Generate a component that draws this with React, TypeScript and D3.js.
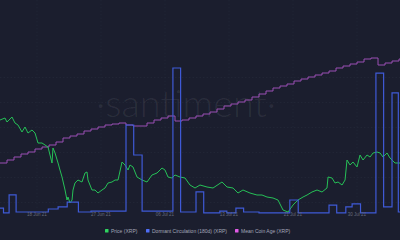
import React from 'react';
import * as d3 from 'd3';

// ---- data (days since start of chart window) ----
const priceDays = [0,0.71,1,1.71,2.14,2.57,3.14,3.57,4,4.57,5,5.43,6,6.43,6.86,7.43,7.57,7.86,8.29,8.57,8.86,9.29,9.57,9.71,10,10.29,10.43,10.71,11.14,11.71,12.14,12.43,12.57,13.14,13.57,14,14.57,15,15.43,16,16.43,16.86,17.43,17.86,18.29,18.57,19,19.57,20.29,21,21.71,22.43,23.14,23.57,24,24.57,25,25.71,26.43,27.14,27.86,28.57,29.57,30.43,31.71,32.43,33.29,34,34.71,35.71,36.71,37.43,38.14,39,39.71,40.43,41.14,41.86,42.57,43.29,43.86,44.57,45.29,46,46.71,46.86,47.43,47.86,48.29,48.86,49.29,49.57,50,50.43,51,51.43,51.86,52.43,52.86,53.29,53.86,54.29,54.71,55.29,55.71,56.43,57.14];
const priceValues = [0.88,0.888,0.872,0.892,0.868,0.86,0.832,0.852,0.828,0.84,0.828,0.788,0.788,0.78,0.772,0.708,0.768,0.748,0.708,0.68,0.652,0.6,0.56,0.572,0.548,0.56,0.6,0.628,0.64,0.632,0.668,0.672,0.64,0.6,0.6,0.588,0.6,0.608,0.628,0.632,0.64,0.64,0.712,0.7,0.68,0.7,0.692,0.652,0.64,0.632,0.66,0.668,0.688,0.68,0.652,0.648,0.66,0.652,0.648,0.62,0.608,0.62,0.612,0.608,0.632,0.612,0.608,0.588,0.6,0.588,0.58,0.58,0.572,0.568,0.56,0.52,0.512,0.54,0.56,0.572,0.58,0.592,0.6,0.592,0.608,0.652,0.648,0.628,0.632,0.62,0.64,0.72,0.7,0.712,0.692,0.74,0.72,0.74,0.732,0.748,0.752,0.748,0.732,0.748,0.728,0.708,0.708];

const dormantDays = [0,0.5,1.3,2.3,6.9,8.3,9.6,11.2,13,18,19.1,20.3,24.7,25.8,28,29.1,31.4,32.4,33.7,34.8,37,41.4,42.6,47,48.1,49.4,50.3,51.5,53.7,54.8,56,56.9,57.3];
const dormantValues = [37,11,107,16,32,43,69,16,21,480,320,21,784,16,123,11,21,11,37,16,11,80,11,53,11,43,59,11,757,43,651,16,16];

const ageValues = [1067,1070,1073,1076,1078,1081,1083,1085,1088,1092,1094,1096,1099,1101,1103,1105,1106,1107,1105,1104,1104,1107,1110,1112,1114,1109,1110,1112,1114,1116,1118,1121,1124,1126,1128,1130,1133,1136,1139,1142,1144,1146,1149,1151,1153,1155,1157,1159,1162,1164,1166,1168,1171,1172,1165,1167,1169,1171];

const tickLabels = ['18 Jun 21','27 Jun 21','06 Jul 21','13 Jul 21','21 Jul 21','30 Jul 21'];
const legendLabels = ['Price (XRP)','Dormant Circulation (180d) (XRP)','Mean Coin Age (XRP)'];
const legendColors = ['#2fd35f','#4f6df5','#e25be6'];

const W = 400, H = 240;

export default function App() {
  const x = d3.scaleLinear().domain([0, 57.14]).range([0, W]);
  const yPrice = d3.scaleLinear().domain([0.5, 0.9]).range([215, 115]);
  const yDorm = d3.scaleLinear().domain([0, 800]).range([215, 65]);
  const yAge = d3.scaleLinear().domain([1060, 1180]).range([170, 50]);
  const xTick = d3.scalePoint<string>().domain(tickLabels).range([37, 357]);

  const pricePts: [number, number][] = priceDays.map((d, i) => [d, priceValues[i]]);
  const pricePath = d3.line<[number, number]>().x(d => x(d[0])).y(d => yPrice(d[1]))(pricePts) || '';

  const dormPts: [number, number][] = dormantDays.map((d, i) => [d, dormantValues[i]]);
  const dormPath = d3.line<[number, number]>().x(d => x(d[0])).y(d => yDorm(d[1])).curve(d3.curveStepAfter)(dormPts) || '';

  const agePts: [number, number][] = ageValues.map((v, i) => [i, v]);
  agePts.push([57.3, ageValues[ageValues.length - 1]]);
  const agePath = d3.line<[number, number]>().x(d => x(d[0])).y(d => yAge(d[1])).curve(d3.curveStepAfter)(agePts) || '';

  const hGrid = [0.55, 0.65, 0.75, 0.85, 0.95, 1.05];

  const legendX = [105, 146, 235];

  return (
    <svg width={W} height={H} style={{ position: 'fixed', left: 0, top: 0, display: 'block' }}>
      <rect x={0} y={0} width={W} height={H} fill="#1b1e2e" />
      {hGrid.map((g, i) => (
        <line key={'h' + i} x1={0} x2={W} y1={yPrice(g)} y2={yPrice(g)} stroke="#262a3b" strokeWidth={0.6} strokeDasharray="1.5,2" />
      ))}
      {tickLabels.map((t, i) => (
        <line key={'v' + i} x1={xTick(t)} x2={xTick(t)} y1={0} y2={208} stroke="#262a3b" strokeWidth={0.6} strokeDasharray="1.5,2" />
      ))}
      <text x={186} y={117} textAnchor="middle" fontFamily="Lato, 'Open Sans', sans-serif" fontWeight={300} fontSize={38} fill="#ffffff" fillOpacity={0.07}>·santiment·</text>
      <path d={agePath} fill="none" stroke="#9b4fb4" strokeWidth={1} />
      <path d={pricePath} fill="none" stroke="#26c057" strokeWidth={1} strokeLinejoin="round" />
      <path d={dormPath} fill="none" stroke="#3f5ad6" strokeWidth={1.2} />
      {tickLabels.map((t, i) => (
        <text key={'t' + i} x={xTick(t)} y={215.5} textAnchor="middle" fontFamily="'Liberation Sans', Arial, sans-serif" fontSize={4.5} fill="#676b7d">{t}</text>
      ))}
      {legendLabels.map((l, i) => (
        <g key={'l' + i}>
          <rect x={legendX[i]} y={229} width={3.5} height={3.5} fill={legendColors[i]} rx={0.5} />
          <text x={legendX[i] + 6} y={232.5} fontFamily="'Liberation Sans', Arial, sans-serif" fontSize={5} fill="#a3a6b8">{l}</text>
        </g>
      ))}
    </svg>
  );
}
